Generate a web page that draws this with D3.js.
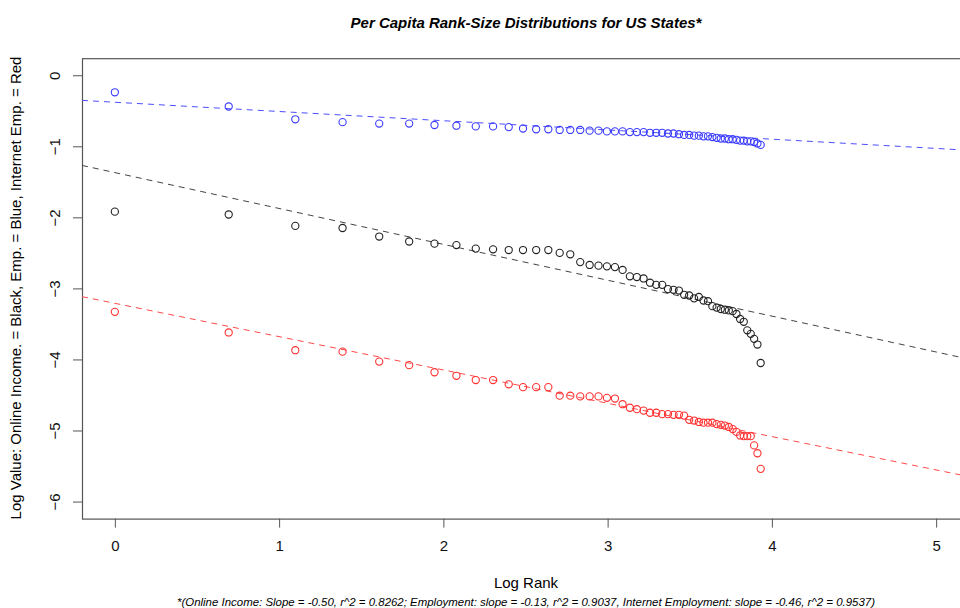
<!DOCTYPE html>
<html><head><meta charset="utf-8">
<script src="https://cdn.jsdelivr.net/npm/d3@7"></script>
<style>body{margin:0;background:#fff}svg{display:block;font-family:"Liberation Sans",Arial,sans-serif}</style>
</head><body><svg id="c" width="960" height="608"></svg>
<script>
// Data: values for states ranked 1..51 (x = ln(rank))
const ranks = d3.range(1, 52);
const onlineIncome = [-1.92,-1.96,-2.12,-2.15,-2.27,-2.34,-2.37,-2.39,-2.44,-2.45,-2.46,-2.46,-2.46,-2.46,-2.50,-2.52,-2.63,-2.67,-2.68,-2.69,-2.70,-2.74,-2.83,-2.84,-2.86,-2.92,-2.95,-2.95,-3.01,-3.02,-3.03,-3.09,-3.10,-3.14,-3.12,-3.17,-3.18,-3.25,-3.27,-3.29,-3.30,-3.31,-3.32,-3.36,-3.43,-3.47,-3.59,-3.64,-3.71,-3.79,-4.05];
const employment = [-0.24,-0.44,-0.62,-0.66,-0.68,-0.68,-0.70,-0.71,-0.72,-0.72,-0.73,-0.75,-0.76,-0.76,-0.77,-0.77,-0.77,-0.78,-0.78,-0.79,-0.79,-0.79,-0.80,-0.80,-0.80,-0.81,-0.81,-0.81,-0.82,-0.82,-0.83,-0.84,-0.84,-0.85,-0.85,-0.86,-0.86,-0.87,-0.88,-0.89,-0.89,-0.90,-0.90,-0.91,-0.92,-0.92,-0.93,-0.93,-0.94,-0.96,-0.98];
const internetEmp = [-3.33,-3.62,-3.87,-3.89,-4.03,-4.08,-4.18,-4.23,-4.29,-4.29,-4.35,-4.39,-4.39,-4.39,-4.51,-4.51,-4.52,-4.52,-4.52,-4.54,-4.55,-4.63,-4.68,-4.70,-4.72,-4.75,-4.75,-4.77,-4.77,-4.78,-4.78,-4.79,-4.85,-4.86,-4.88,-4.89,-4.89,-4.89,-4.91,-4.92,-4.93,-4.95,-4.98,-5.02,-5.07,-5.08,-5.08,-5.08,-5.21,-5.32,-5.54];
// Fitted lines: [intercept, slope]
const fitOnline = [-1.37, -0.505];
const fitEmp = [-0.38, -0.13];
const fitInternet = [-3.21, -0.469];
const xTicks = [0,1,2,3,4,5];
const yTicks = [0,-1,-2,-3,-4,-5,-6];

const series = [
  {vals: onlineIncome, fit: fitOnline, color: "#222222", line: "#444444"},
  {vals: employment, fit: fitEmp, color: "#3b3bff", line: "#4d4dff"},
  {vals: internetEmp, fit: fitInternet, color: "#ff3030", line: "#ff4a4a"}
];

const svg = d3.select("#c");
const L = 82, R = 969, T = 58.2, B = 518.6;
const x = d3.scaleLinear().domain([-0.2, 5.2]).range([L, R]);
const y = d3.scaleLinear().domain([-6.24, 0.24]).range([B, T]);

svg.append("defs").append("clipPath").attr("id","clip")
  .append("rect").attr("x",L).attr("y",T).attr("width",R-L).attr("height",B-T);

// box
svg.append("rect").attr("x",L+0.5).attr("y",T+0.5).attr("width",R-L).attr("height",B-T)
  .attr("fill","none").attr("stroke","#555").attr("stroke-width",1.2);

// fitted lines
const g = svg.append("g").attr("clip-path","url(#clip)");
series.forEach(s => {
  const xs = [-0.2, 5.2];
  g.append("line")
    .attr("x1", x(xs[0])).attr("y1", y(s.fit[0] + s.fit[1]*xs[0]))
    .attr("x2", x(xs[1])).attr("y2", y(s.fit[0] + s.fit[1]*xs[1]))
    .attr("stroke", s.line).attr("stroke-width",1).attr("stroke-dasharray","6,5");
});
// points
series.forEach(s => {
  g.selectAll(null).data(s.vals).enter().append("circle")
    .attr("cx",(d,i)=>x(Math.log(ranks[i])))
    .attr("cy",d=>y(d))
    .attr("r",3.6).attr("fill","none").attr("stroke",s.color).attr("stroke-width",1.1);
});

// axes
const xAxis = d3.axisBottom(x).tickValues(xTicks).tickSize(9).tickPadding(13).tickFormat(d3.format("d"));
const xg = svg.append("g").attr("transform",`translate(0,${B})`).call(xAxis);
xg.select(".domain").remove();
xg.selectAll("line").attr("stroke","#555");
xg.selectAll("text").attr("font-size",15).attr("fill","#111").attr("font-family","Liberation Sans, Arial, sans-serif");

const yAxis = d3.axisLeft(y).tickValues(yTicks).tickSize(9).tickFormat(d3.format("d"));
const yg = svg.append("g").attr("transform",`translate(${L},0)`).call(yAxis);
yg.select(".domain").remove();
yg.selectAll("line").attr("stroke","#555");
yg.selectAll("text").attr("font-size",15).attr("fill","#111").attr("font-family","Liberation Sans, Arial, sans-serif")
  .attr("x",null).attr("dy",null).attr("text-anchor","middle")
  .attr("transform","translate(-27,0) rotate(-90)").attr("y",5);

// titles
svg.append("text").attr("x",526).attr("y",28).attr("text-anchor","middle")
  .attr("font-size",15).attr("font-weight","bold").attr("font-style","italic")
  .text("Per Capita Rank-Size Distributions for US States*");
svg.append("text").attr("x",526).attr("y",588).attr("text-anchor","middle")
  .attr("font-size",15).text("Log Rank");
svg.append("text").attr("transform","translate(21,288) rotate(-90)").attr("text-anchor","middle")
  .attr("font-size",15).text("Log Value: Online Income. = Black, Emp. = Blue, Internet Emp. = Red");
svg.append("text").attr("x",526).attr("y",606).attr("text-anchor","middle")
  .attr("font-size",10.5).attr("font-style","italic").attr("textLength",698).attr("lengthAdjust","spacingAndGlyphs")
  .text("*(Online Income: Slope = -0.50, r^2 = 0.8262; Employment: slope = -0.13, r^2 = 0.9037, Internet Employment: slope = -0.46, r^2 = 0.9537)");
</script></body></html>
